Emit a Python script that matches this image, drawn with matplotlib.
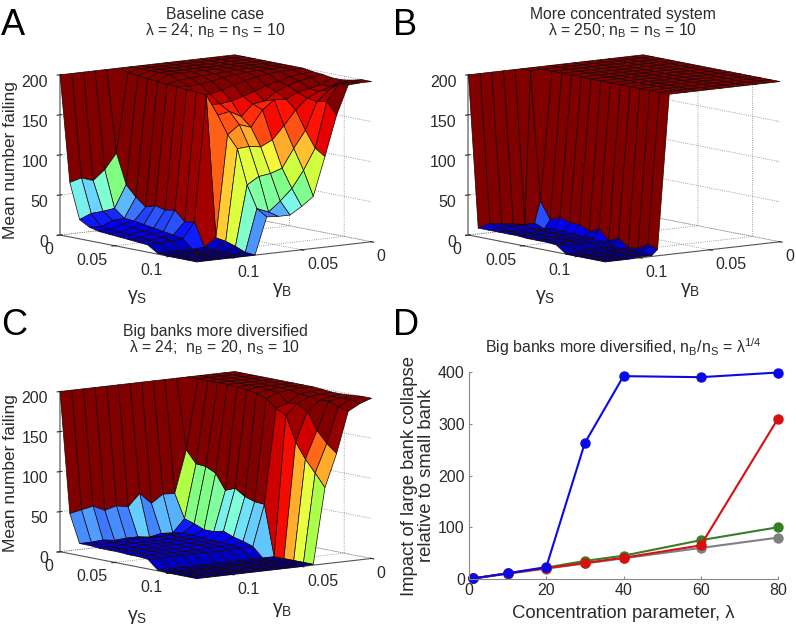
import numpy as np
import matplotlib
matplotlib.use('Agg')
import matplotlib.pyplot as plt

plt.rcParams['font.family'] = ['Liberation Sans', 'DejaVu Sans']
plt.rcParams['mathtext.default'] = 'regular'
plt.rcParams['grid.linestyle'] = ':'
plt.rcParams['grid.linewidth'] = 0.6
plt.rcParams['grid.color'] = '#808080'

TXT = '#2b2b2b'

# gamma grids (same for the three surfaces)
gamma_b = np.linspace(0, 0.125, 16)
gamma_s = np.linspace(0, 0.125, 15)

# panel B has its cliff half a cell further along gamma_b
gamma_b_b = gamma_b.copy()
gamma_b_b[9:11] += 0.125 / 15 / 2

# mean number failing, rows = gamma_s, columns = gamma_b
fail_a = [
    [200, 200, 200, 200, 200, 200, 200, 200, 200, 200, 200, 200, 200, 200, 200, 200],
    [200, 200, 200, 200, 200, 200, 200, 200, 200, 200, 197, 98, 79, 67, 72, 68],
    [200, 200, 200, 200, 200, 200, 200, 200, 200, 200, 195, 61, 33, 31, 30, 24],
    [200, 200, 200, 200, 200, 200, 200, 200, 200, 200, 194, 48, 23, 22, 16, 17],
    [200, 200, 200, 200, 200, 200, 200, 200, 200, 200, 193, 38, 22, 20, 15, 14],
    [200, 200, 200, 200, 200, 199, 198, 197, 196, 195, 192, 42, 20, 18, 14, 13],
    [200, 200, 200, 200, 199, 198, 196, 193, 191, 190, 191, 39, 18, 16, 13, 12],
    [200, 200, 199, 198, 196, 193, 189, 184, 181, 180, 190, 41, 16, 15, 12, 11],
    [198, 197, 195, 191, 187, 182, 177, 173, 171, 172, 189, 29, 14, 13, 11, 10],
    [197, 195, 192, 188, 182, 172, 170, 156, 164, 161, 188, 31, 12, 11, 10, 9],
    [195, 188, 185, 182, 175, 176, 165, 145, 150, 139, 12, 2, 1, 1, 1, 1],
    [195, 188, 184, 177, 164, 146, 130, 123, 125, 124, 10, 1, 0, 0, 0, 0],
    [197, 195, 188, 175, 141, 120, 97, 92, 90, 81, 6, 1, 0, 0, 0, 0],
    [200, 198, 198, 178, 121, 95, 74, 60, 48, 54, 1, 0, 0, 0, 0, 0],
    [200, 200, 199, 163, 113, 65, 54, 45, 45, 46, 0, 0, 0, 0, 0, 0],
]
fail_b = [
    [200, 200, 200, 200, 200, 200, 200, 200, 200, 200, 200, 200, 200, 200, 200, 200],
    [200, 200, 200, 200, 200, 200, 200, 200, 200, 200, 200, 9, 11, 13, 15, 11],
    [200, 200, 200, 200, 200, 200, 200, 200, 200, 200, 40, 13, 12, 12, 12, 11],
    [200, 200, 200, 200, 200, 200, 200, 200, 200, 200, 19, 8, 10, 10, 10, 11],
    [200, 200, 200, 200, 200, 200, 200, 200, 200, 200, 24, 10, 10, 9, 9, 11],
    [200, 200, 200, 200, 200, 200, 200, 200, 200, 200, 20, 10, 9, 9, 9, 11],
    [200, 200, 200, 200, 200, 200, 200, 200, 200, 200, 20, 9, 9, 9, 9, 10],
    [200, 200, 200, 200, 200, 200, 200, 200, 200, 200, 14, 8, 8, 8, 9, 10],
    [200, 200, 200, 200, 200, 200, 200, 200, 200, 200, 19, 8, 8, 8, 8, 10],
    [200, 200, 200, 200, 200, 200, 200, 200, 200, 200, 7, 6, 7, 7, 8, 9],
    [200, 200, 200, 200, 200, 200, 200, 200, 200, 200, 13, 3, 3, 2, 1, 0],
    [200, 200, 200, 200, 200, 200, 200, 200, 200, 200, 3, 2, 2, 1, 0, 0],
    [200, 200, 200, 200, 200, 200, 200, 200, 200, 200, 5, 2, 1, 1, 0, 0],
    [200, 200, 200, 200, 200, 200, 200, 200, 200, 200, 12, 2, 1, 0, 0, 0],
    [200, 200, 200, 200, 200, 200, 200, 200, 200, 200, 8, 1, 1, 0, 0, 0],
]
fail_c = [
    [200, 200, 200, 200, 200, 200, 200, 200, 200, 200, 200, 200, 200, 200, 200, 200],
    [200, 200, 200, 200, 200, 113, 60, 61, 51, 65, 50, 53, 49, 56, 53, 50],
    [200, 200, 200, 200, 200, 98, 31, 15, 16, 13, 15, 15, 14, 16, 15, 15],
    [200, 200, 200, 200, 200, 97, 27, 17, 16, 16, 16, 16, 15, 15, 15, 15],
    [200, 200, 200, 200, 200, 91, 22, 17, 16, 16, 15, 15, 15, 15, 14, 14],
    [200, 200, 200, 200, 199, 72, 22, 16, 16, 16, 15, 15, 15, 14, 14, 14],
    [200, 200, 200, 200, 198, 77, 25, 15, 15, 15, 15, 15, 14, 14, 14, 14],
    [200, 200, 200, 199, 196, 69, 20, 15, 15, 15, 14, 14, 14, 14, 13, 13],
    [200, 200, 199, 198, 192, 65, 17, 14, 14, 14, 13, 13, 13, 13, 13, 13],
    [199, 198, 197, 187, 182, 64, 13, 12, 12, 12, 12, 12, 12, 12, 12, 12],
    [198, 197, 196, 189, 176, 1, 1, 1, 1, 1, 1, 1, 1, 1, 1, 1],
    [198, 197, 193, 181, 145, 1, 0, 0, 0, 0, 0, 0, 0, 0, 0, 0],
    [199, 197, 195, 160, 126, 1, 0, 0, 0, 0, 0, 0, 0, 0, 0, 0],
    [200, 198, 190, 146, 111, 1, 0, 0, 0, 0, 0, 0, 0, 0, 0, 0],
    [200, 195, 187, 136, 95, 1, 0, 0, 0, 0, 0, 0, 0, 0, 0, 0],
]

# panel D
lam = [1, 10, 20, 30, 40, 60, 80]
impact_gray = [1, 10, 20, 30, 40, 60, 80]
impact_green = [1, 11, 22, 35, 45, 75, 100]
impact_red = [1, 11, 21, 31, 41, 65, 310]
impact_blue = [1, 11, 23, 263, 392, 390, 399]

fig = plt.figure(figsize=(7.96, 6.27), dpi=100)
FW, FH = 796.0, 627.0
W = 344.0  # side of the square 3d axes, px


def face_colors(Z):
    # jet, paler in the middle and darker near the top like the original rendering
    level = np.where(Z > 160, Z + (Z - 160) * 0.2, Z)
    rgba = plt.cm.jet(np.clip(level / 200.0, 0, 1))
    rgba[..., 0] = np.maximum(rgba[..., 0], 0.5 * rgba[..., 1])
    rgba[..., 2] = np.maximum(rgba[..., 2], 0.25 * rgba[..., 1])
    return rgba


def surface_panel(cx, cy, fail, gb, title, title_x, title_y, gb_label, gs_label, zlabel=None):
    # cx, cy = pixel position of the centre of the box, from top left
    left = (cx - 0.5135 * W) / FW
    bottom = (FH - cy - 0.5135 * W) / FH
    ax = fig.add_axes([left, bottom, W / FW, W / FH], projection='3d', proj_type='ortho')
    ax.set_facecolor('none')
    ax.view_init(elev=8.6, azim=52.6)
    ax.set_box_aspect((220, 225, 162), zoom=0.999)

    X, Y = np.meshgrid(gb, gamma_s)
    Z = np.array(fail, dtype=float)
    ax.plot_surface(X, Y, Z, rstride=1, cstride=1, facecolors=face_colors(Z),
                    shade=False, edgecolor='#1a0505', linewidth=0.5, antialiased=True)

    ax.set_xlim(0, 0.125, view_margin=0)
    ax.set_ylim(0, 0.125, view_margin=0)
    ax.set_zlim(0, 200, view_margin=0)
    ax.set_xticks([0, 0.05, 0.1])
    ax.set_xticklabels(['0', '0.05', '0.1'], ha='left')
    ax.set_yticks([0, 0.05, 0.1])
    ax.set_yticklabels(['0', '0.05', '0.1'], ha='right')
    ax.set_zticks([0, 50, 100, 150, 200])
    ax.set_zticklabels(['0', '50', '100', '150', '200'], ha='right')
    ax.tick_params(labelsize=11.5, colors=TXT, pad=-3)
    for axis in (ax.xaxis, ax.yaxis, ax.zaxis):
        axis.set_pane_color((1, 1, 1, 0))
        axis.pane.set_edgecolor('none')
    ax.xaxis.line.set_color('#555555')
    ax.yaxis.line.set_color('#555555')
    ax.zaxis.line.set_color('#999999')
    ax.zaxis.line.set_linewidth(1.4)

    # axis names sit at fixed spots, not at the middle of the axes
    fig.text(gb_label[0] / FW, (FH - gb_label[1]) / FH, 'γ$_B$', fontsize=14, color=TXT, ha='center', va='center')
    fig.text(gs_label[0] / FW, (FH - gs_label[1]) / FH, 'γ$_S$', fontsize=14, color=TXT, ha='center', va='center')
    if zlabel:
        fig.text(zlabel[0] / FW, (FH - zlabel[1]) / FH, 'Mean number failing', fontsize=12.5, color=TXT,
                 rotation=90, ha='center', va='center')
    ax.set_title(title, fontsize=11.3, color=TXT, linespacing=0.9, pad=0,
                 x=(title_x - left * FW) / W, y=(FH - title_y - bottom * FH) / W / 0.92)
    return ax


surface_panel(215.8, 158.3, fail_a, gamma_b,
              'Baseline case\nλ = 24; n$_B$ = n$_S$ = 10', 215, 35, (282, 290), (137, 297), zlabel=(11, 160))
surface_panel(624.2, 158.3, fail_b, gamma_b_b,
              'More concentrated system\nλ = 250; n$_B$ = n$_S$ = 10', 623, 35, (690, 290), (545, 297))
surface_panel(215.8, 475.0, fail_c, gamma_b,
              'Big banks more diversified\nλ = 24;  n$_B$ = 20, n$_S$ = 10', 215, 352, (282, 610), (137, 617), zlabel=(11, 473))

axd = fig.add_axes([469 / FW, (FH - 579) / FH, 309 / FW, 207 / FH])
axd.plot(lam, impact_gray, '-o', color='#808080', lw=1.5, ms=6.5, clip_on=False)
axd.plot(lam, impact_green, '-o', color='#3a7d28', lw=1.5, ms=6.5, clip_on=False)
axd.plot(lam, impact_red, '-o', color='#d80f0f', lw=1.5, ms=6.5, clip_on=False)
axd.plot(lam, impact_blue, '-o', color='#0a0ae6', lw=1.5, ms=6.5, clip_on=False)
axd.set_xlim(0, 80)
axd.set_ylim(0, 400)
axd.set_xticks([0, 20, 40, 60, 80])
axd.set_yticks([0, 100, 200, 300, 400])
axd.spines['top'].set_visible(False)
axd.spines['right'].set_visible(False)
axd.spines['left'].set_color('#888888')
axd.spines['bottom'].set_color('#888888')
axd.tick_params(direction='in', length=2.5, color='#888888', labelcolor=TXT, labelsize=11.5, pad=3)
axd.set_xlabel('Concentration parameter, λ', fontsize=13.3, color=TXT, labelpad=5)
axd.set_ylabel('Impact of large bank collapse\nrelative to small bank', fontsize=13.3, color=TXT,
               linespacing=1.05, labelpad=2)
axd.set_title('Big banks more diversified, n$_B$/n$_S$ = λ$^{1/4}$', fontsize=11.4, color=TXT, pad=14)

# panel letters
for letter, px, py in [('A', 1, 35), ('B', 393, 35), ('C', 1, 335), ('D', 393, 335)]:
    fig.text(px / FW, (FH - py) / FH, letter, fontsize=26, color='black')

fig.savefig('out.png', dpi=100)
